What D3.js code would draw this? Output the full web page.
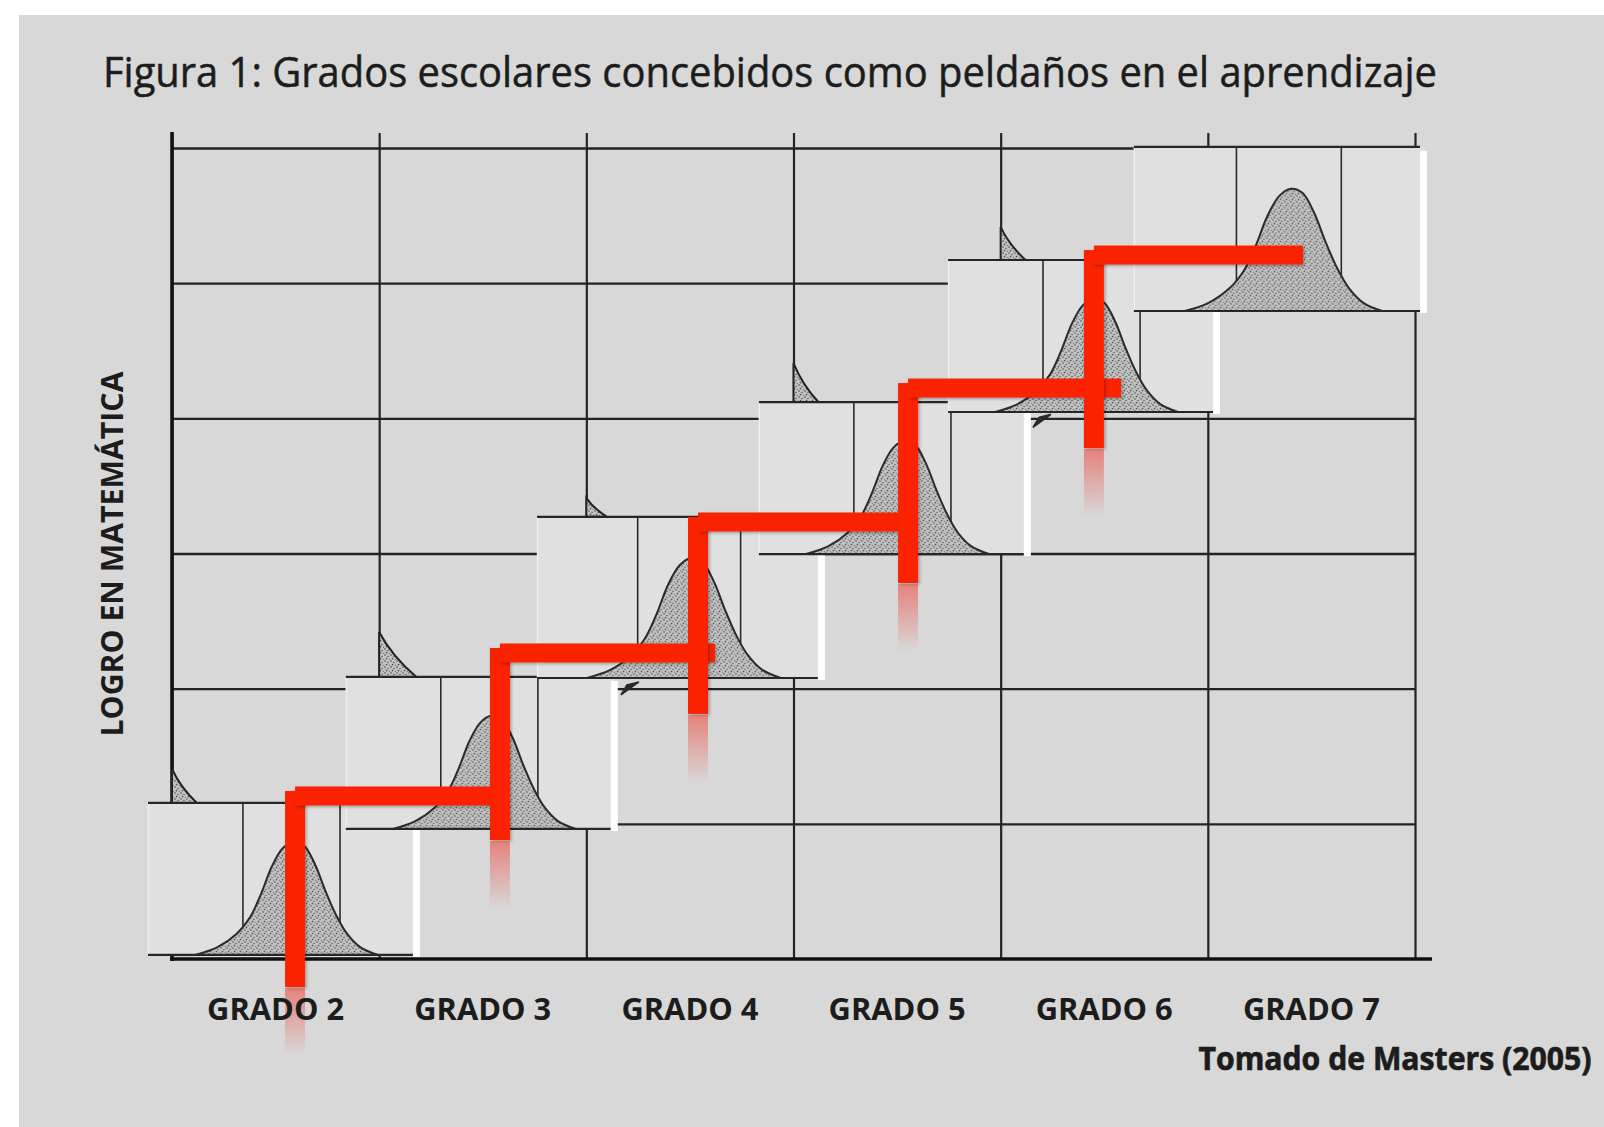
<!DOCTYPE html>
<html>
<head>
<meta charset="utf-8">
<title>Grados escolares como peldaños</title>
<script src="https://d3js.org/d3.v7.min.js"></script>
<style>
    html, body { margin: 0; padding: 0; background: #fff; overflow: hidden; }
    svg { display: block; }
    text { font-family: "Open Sans", sans-serif; fill: #1c1c1c; }
</style>
</head>
<body>
<div id="graph"></div>
<script>
// grade labels under each column
var grades = ["GRADO 2", "GRADO 3", "GRADO 4", "GRADO 5", "GRADO 6", "GRADO 7"];

// distribution panel per grade: left edge (grid columns), bottom edge (grid rows), size factor
var panelCol = [-0.116, 0.839, 1.762, 2.833, 3.746, 4.643];
var panelRow = [0.030, 0.962, 2.079, 2.996, 4.047, 4.794];
var panelScale = [1, 1, 1.06, 1, 1, 1.08];

// achievement distribution drawn in every panel: score (0-100 across panel) and relative height
var curveScore = [17.5, 25.7, 33, 38, 42, 46, 50, 54, 58, 62, 66, 70, 74, 79, 85.5];
var curveDensity = [0, 0.05, 0.14, 0.25, 0.40, 0.58, 0.70, 0.745, 0.72, 0.60, 0.42, 0.26, 0.14, 0.05, 0];
var panelCuts = [35.3, 71.4];

// red staircase: risers at grade means, treads at achievement levels
var stepCol = [0.594, 1.583, 2.539, 3.553, 4.450];
var stepRow = [1.206, 2.264, 3.233, 4.224, 5.208];
var treadEnd = [1.549, 2.621, 3.562, 4.581, 5.459];
var riserEnd = [-0.207, 0.880, 1.813, 2.782, 3.780];

// tails of the original curves peeking above panels
var tailCol = [0, 1, 2, 3, 4];
var tailTop = [1.406, 2.419, 3.410, 4.409, 5.415];
var tailWidth = [0.12, 0.18, 0.10, 0.12, 0.12];

// small dark slivers left under two panels
var sliverCol = [2.167, 4.156];
var sliverRow = [2.05, 4.03];

var panelCols = 1.2985, panelRows = 1.1245, fadeRows = 0.5;

var svg = d3.select("#graph")
    .append("svg")
        .attr("width", 1604)
        .attr("height", 1127);

svg.append("rect")
    .attr("x", 19).attr("y", 15)
    .attr("width", 1585).attr("height", 1112)
    .attr("fill", "#d8d8d8");

var defs = svg.append("defs");

// stippled fill for the curves
var pat = defs.append("pattern")
    .attr("id", "stipple")
    .attr("width", 6).attr("height", 6)
    .attr("patternUnits", "userSpaceOnUse");
pat.append("rect").attr("width", 6).attr("height", 6).attr("fill", "#c2c2c2");
[[1, 1, 0.8], [4, 2.5, 0.7], [2.5, 4.6, 0.8], [5.3, 5.2, 0.5]].forEach(function(p) {
    pat.append("circle").attr("cx", p[0]).attr("cy", p[1]).attr("r", p[2]).attr("fill", "#4a4a4a");
});

var fade = defs.append("linearGradient")
    .attr("id", "fade")
    .attr("x1", 0).attr("y1", 0).attr("x2", 0).attr("y2", 1);
fade.append("stop").attr("offset", "0%").attr("stop-color", "#f03c30").attr("stop-opacity", 0.55);
fade.append("stop").attr("offset", "100%").attr("stop-color", "#f03c30").attr("stop-opacity", 0);

var shadow = defs.append("filter").attr("id", "shadow")
    .attr("x", "-20%").attr("y", "-20%").attr("width", "140%").attr("height", "140%");
shadow.append("feDropShadow")
    .attr("dx", 1.5).attr("dy", 1.5).attr("stdDeviation", 1.5)
    .attr("flood-color", "#000").attr("flood-opacity", 0.3);

var x = d3.scaleLinear().domain([0, 6]).range([172, 1415]);
var y = d3.scaleLinear().domain([0, 6]).range([959, 148]);

// background grid through the axes
var xGrid = d3.axisBottom(x).ticks(6).tickSize(-(y(0) - y(6)) - 15).tickFormat("");
var yGrid = d3.axisLeft(y).ticks(6).tickSize(-(x(6) - x(0))).tickFormat("");

svg.append("g")
    .attr("transform", "translate(0," + y(0) + ")")
    .call(xGrid)
    .call(function(g) {
        g.select(".domain").remove();
        g.selectAll(".tick line").attr("stroke", "#232323").attr("stroke-width", 2.2);
    });

svg.append("g")
    .attr("transform", "translate(" + x(0) + ",0)")
    .call(yGrid)
    .call(function(g) {
        g.select(".domain").remove();
        g.selectAll(".tick line").filter(Number).attr("stroke", "#232323").attr("stroke-width", 2.4);
        g.selectAll(".tick").filter(function(d) { return d === 0; }).remove();
    });

// heavy axis lines
svg.append("line")
    .attr("x1", x(0)).attr("x2", x(0))
    .attr("y1", y(6) - 16).attr("y2", y(0) + 2)
    .attr("stroke", "#111").attr("stroke-width", 3.5);
svg.append("line")
    .attr("x1", x(0) - 2).attr("x2", x(6) + 17)
    .attr("y1", y(0)).attr("y2", y(0))
    .attr("stroke", "#111").attr("stroke-width", 3.5);

// curve tails above the panels
var tails = svg.append("g");
tailCol.forEach(function(c, i) {
    var x0 = x(c), x1 = x(c + tailWidth[i]);
    var yTop = y(tailTop[i]);
    var yBot = y(panelRow[i] + panelRows * panelScale[i]);
    var p = d3.path();
    p.moveTo(x0, yTop);
    p.quadraticCurveTo(x0 + (x1 - x0) * 0.35, yTop + (yBot - yTop) * 0.55, x1, yBot);
    p.lineTo(x0, yBot);
    p.closePath();
    tails.append("path")
        .attr("d", p.toString())
        .attr("fill", "url(#stipple)")
        .attr("stroke", "#222").attr("stroke-width", 2);
});

// slivers
sliverCol.forEach(function(c, i) {
    var sx0 = x(c), sy0 = y(sliverRow[i]);
    svg.append("path")
        .attr("d", "M" + sx0 + "," + (sy0 + 13) + "L" + (sx0 + 18) + "," + sy0 + "L" + (sx0 + 6) + "," + (sy0 + 3) + "Z")
        .attr("fill", "#2a2a2a")
        .attr("stroke", "#2a2a2a").attr("stroke-width", 1.5);
});

// one panel per grade, later grades on top
grades.forEach(function(gr, i) {
    var k = panelScale[i];
    var w = (x(panelCols) - x(0)) * k;
    var h = (y(0) - y(panelRows)) * k;
    var sx = d3.scaleLinear().domain([0, 100]).range([0, w]);
    var sy = d3.scaleLinear().domain([0, 1]).range([h, 0]);

    var g = svg.append("g")
        .attr("class", "panel")
        .attr("transform", "translate(" + x(panelCol[i]) + "," + (y(panelRow[i]) - h) + ")");

    g.append("rect")
        .attr("width", w).attr("height", h)
        .attr("fill", "#e0e0e0");
    g.append("line")
        .attr("x1", 0.5).attr("x2", 0.5).attr("y1", 0).attr("y2", h)
        .attr("stroke", "#efefef").attr("stroke-width", 1.5);

    g.selectAll(".cut")
        .data(panelCuts)
        .join("line")
        .attr("x1", function(d) { return sx(d); })
        .attr("x2", function(d) { return sx(d); })
        .attr("y1", 0).attr("y2", h)
        .attr("stroke", "#2a2a2a").attr("stroke-width", 1.6);

    var area = d3.area()
        .x(function(d) { return sx(d[0]); })
        .y0(h)
        .y1(function(d) { return sy(d[1]); })
        .curve(d3.curveCatmullRom);

    g.append("path")
        .datum(d3.zip(curveScore, curveDensity))
        .attr("d", area)
        .attr("fill", "url(#stipple)")
        .attr("stroke", "#2b2b2b").attr("stroke-width", 2);

    [0, h].forEach(function(ly) {
        g.append("line")
            .attr("x1", 0).attr("x2", sx(98.5))
            .attr("y1", ly).attr("y2", ly)
            .attr("stroke", "#262626").attr("stroke-width", 2.2);
    });

    // white edge on the right of the cut-out
    g.append("rect")
        .attr("x", sx(98.5)).attr("y", 4)
        .attr("width", 7).attr("height", h - 2)
        .attr("fill", "#ffffff");
});

// red staircase
var red = "#fb2300";
var steps = svg.append("g");
stepCol.forEach(function(c, i) {
    var cx = x(c);
    var ty = y(stepRow[i]);
    steps.append("rect")
        .attr("x", cx - 10).attr("width", 20)
        .attr("y", ty - 5).attr("height", y(riserEnd[i]) - ty + 5)
        .attr("fill", red)
        .attr("filter", "url(#shadow)");
    steps.append("rect")
        .attr("x", cx - 10).attr("width", 20)
        .attr("y", y(riserEnd[i]) + 1)
        .attr("height", y(riserEnd[i] - fadeRows) - y(riserEnd[i]))
        .attr("fill", "url(#fade)");
    steps.append("rect")
        .attr("x", cx).attr("width", x(treadEnd[i]) - cx)
        .attr("y", ty - 9.5).attr("height", 19)
        .attr("fill", red)
        .attr("filter", "url(#shadow)");
});

// texts
svg.append("text")
    .attr("x", 103).attr("y", 87)
    .attr("font-size", 42)
    .attr("fill", "#202020")
    .attr("stroke", "#202020").attr("stroke-width", 0.5)
    .attr("textLength", 1334)
    .attr("lengthAdjust", "spacingAndGlyphs")
    .text("Figura 1: Grados escolares concebidos como peldaños en el aprendizaje");

var xBand = d3.scaleBand().domain(grades).range([x(0), x(6)]);
svg.append("g")
    .attr("transform", "translate(0,1020)")
    .call(d3.axisBottom(xBand).tickSize(0).tickPadding(0))
    .call(function(g) {
        g.select(".domain").remove();
        g.selectAll("text")
            .attr("y", 0).attr("dy", 0)
            .attr("font-family", "Open Sans, sans-serif")
            .attr("font-size", 31)
            .attr("font-weight", 700)
            .attr("fill", "#1c1c1c")
            .attr("textLength", 137)
            .attr("lengthAdjust", "spacingAndGlyphs");
    });

svg.append("text")
    .attr("transform", "translate(123,554) rotate(-90)")
    .attr("text-anchor", "middle")
    .attr("font-size", 31)
    .attr("font-weight", 700)
    .attr("textLength", 365)
    .attr("lengthAdjust", "spacingAndGlyphs")
    .text("LOGRO EN MATEMÁTICA");

svg.append("text")
    .attr("transform", "translate(1395,1070) scale(1,1.15)")
    .attr("text-anchor", "middle")
    .attr("font-size", 28)
    .attr("font-weight", 700)
    .attr("stroke", "#1c1c1c").attr("stroke-width", 0.6)
    .attr("textLength", 393)
    .attr("lengthAdjust", "spacingAndGlyphs")
    .text("Tomado de Masters (2005)");
</script>
</body>
</html>
